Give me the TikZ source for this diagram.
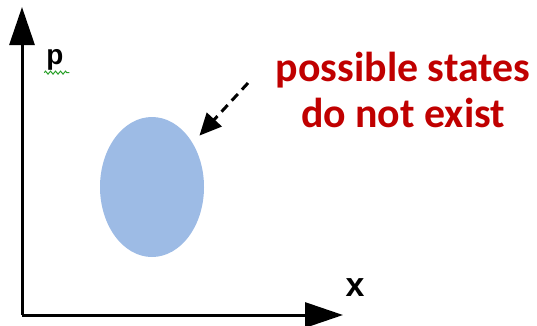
\documentclass[tikz,border=0pt]{standalone}
\usepackage{fontspec}
\setmainfont{Carlito}
\newfontfamily\axisfont{Liberation Sans}
\usepackage{tikz}
\usetikzlibrary{arrows.meta,shapes.geometric,decorations.pathmorphing}
\definecolor{StateBlue}{RGB}{157,187,229}
\definecolor{NoteRed}{RGB}{192,0,0}
\definecolor{SpellGreen}{RGB}{40,160,40}

\begin{document}
\begin{tikzpicture}[x=1bp,y=-1bp,>={Triangle[length=38bp,width=25bp]}]
      \useasboundingbox (0,0) rectangle (537,325);
      \coordinate (O) at (22,315);
      \coordinate (X) at (343,315);
      \coordinate (P) at (22,7);
      \draw[->,line width=3bp] (O)--(X);
      \draw[->,line width=3bp] (O)--(P);
      \node[font=\axisfont\bfseries\fontsize{28}{28}\selectfont,inner sep=0pt] (plabel) at (55,60) {p};
      \draw[SpellGreen,line width=1bp,decorate,decoration={zigzag,amplitude=1.5bp,segment length=5bp}]
        (plabel.south west)++(-2,2) -- ++(25,0);
      \node[font=\axisfont\bfseries\fontsize{34}{34}\selectfont,inner sep=0pt] (xlabel) at (355,288) {x};
      \node[ellipse,fill=StateBlue,minimum width=104bp,minimum height=140bp,inner sep=0pt] (blob) at (152,187) {};
      \node[NoteRed,align=center,font=\bfseries\fontsize{42}{47}\selectfont,inner sep=0pt] (note) at (403,90) {possible states\\do not exist};
      \coordinate (tail) at (248,83);
      \draw[->,>={Triangle[length=22bp,width=20bp]},line width=3bp,dash pattern=on 9bp off 6bp,shorten >=10bp] (tail)--(blob);
    \end{tikzpicture}
\end{document}
